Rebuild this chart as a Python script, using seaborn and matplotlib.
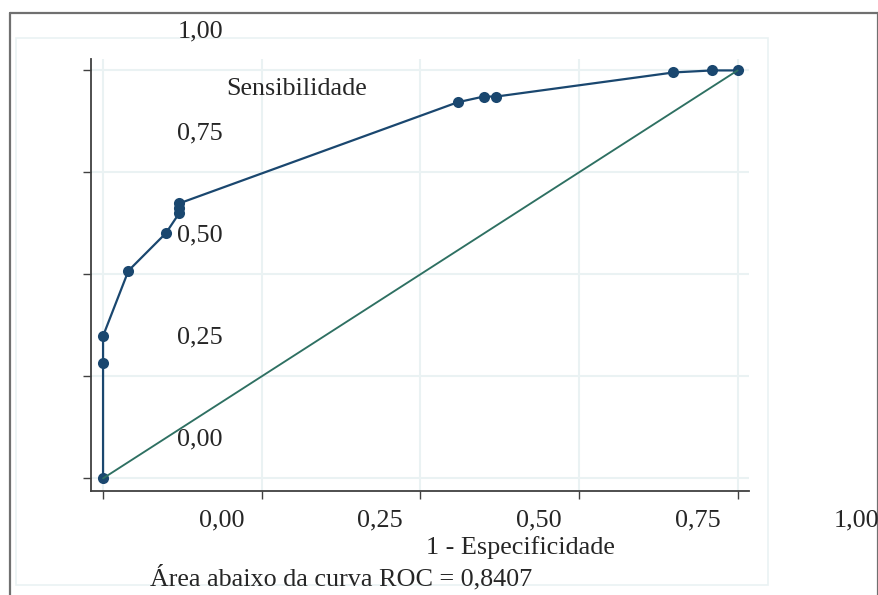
import seaborn as sns
import matplotlib.pyplot as plt
from matplotlib.lines import Line2D
from matplotlib.patches import Rectangle

# ROC points
fpr = [0.0, 0.0, 0.0, 0.040, 0.099, 0.120, 0.120, 0.120, 0.559, 0.600, 0.620, 0.899, 0.960, 1.0]
sens = [0.0, 0.284, 0.349, 0.509, 0.601, 0.650, 0.662, 0.674, 0.922, 0.936, 0.936, 0.995, 1.0, 1.0]
diag = [0.0, 1.0]
tick_vals = [0.0, 0.25, 0.5, 0.75, 1.0]
tick_labels = ['0,00', '0,25', '0,50', '0,75', '1,00']

sns.set_style('white')
plt.rcParams['font.family'] = ['Liberation Serif', 'DejaVu Serif']
fs = 18.8
navy = '#1a476f'
teal = '#2e7062'
grid = '#eaf2f3'

W, H = 879, 595
fig = plt.figure(figsize=(W / 100, H / 100), dpi=100)

# outer frame and inner plot region (kept behind the axes)
frame = dict(color='#707070', lw=1.6, zorder=-2)
fig.add_artist(Line2D([10 / W, 10 / W], [0, 1 - 12.5 / H], **frame))
fig.add_artist(Line2D([10 / W, 878 / W], [1 - 12.5 / H, 1 - 12.5 / H], **frame))
fig.add_artist(Line2D([878 / W, 878 / W], [0, 1 - 12.5 / H], **frame))
fig.add_artist(Rectangle((16 / W, 1 - 585 / H), (768 - 16) / W, (585 - 38) / H,
                         fill=False, edgecolor=grid, lw=1.2, zorder=-2))

ax = fig.add_axes([91 / W, 1 - 491 / H, (749 - 91) / W, (491 - 59) / H])
ax.patch.set_alpha(0)
ax.set_xlim(-0.019, 1.018)
ax.set_ylim(-0.031, 1.028)

for v in tick_vals:
    ax.axhline(v, color=grid, lw=1.5, zorder=0)
    ax.axvline(v, color=grid, lw=1.5, zorder=0)

sns.lineplot(x=fpr, y=sens, sort=False, estimator=None, color=navy, lw=1.6,
             marker='o', markersize=8, markeredgewidth=0, ax=ax, zorder=3)
sns.lineplot(x=diag, y=diag, sort=False, estimator=None, color=teal, lw=1.35, ax=ax, zorder=4)

for s in ['top', 'right']:
    ax.spines[s].set_visible(False)
for s in ['left', 'bottom']:
    ax.spines[s].set_color('#404040')
    ax.spines[s].set_linewidth(1.3)

ax.set_xticks(tick_vals)
ax.set_yticks(tick_vals)
ax.tick_params(axis='both', direction='out', length=6, width=1, color='#404040',
               labelleft=False, labelbottom=False, left=True, bottom=True)
ax.set_xlabel('')
ax.set_ylabel('')

# misplaced tick labels, as in the original
for v, lab in zip(tick_vals, tick_labels):
    ax.text(0.153, v + 0.081, lab, ha='center', va='baseline', fontsize=fs, clip_on=False)
    ax.text(v + 0.187, -0.117, lab, ha='center', va='baseline', fontsize=fs, clip_on=False)

ax.text(0.194, 0.940, 'Sensibilidade', ha='left', va='baseline', fontsize=fs)
ax.text(0.658, -0.186, '1 - Especificidade', ha='center', va='baseline', fontsize=fs, clip_on=False)
ax.text((150 - 103) / 634.3, -0.263, 'Área abaixo da curva ROC = 0,8407', ha='left',
        va='baseline', fontsize=fs, clip_on=False)

fig.savefig('out.png', dpi=100)
